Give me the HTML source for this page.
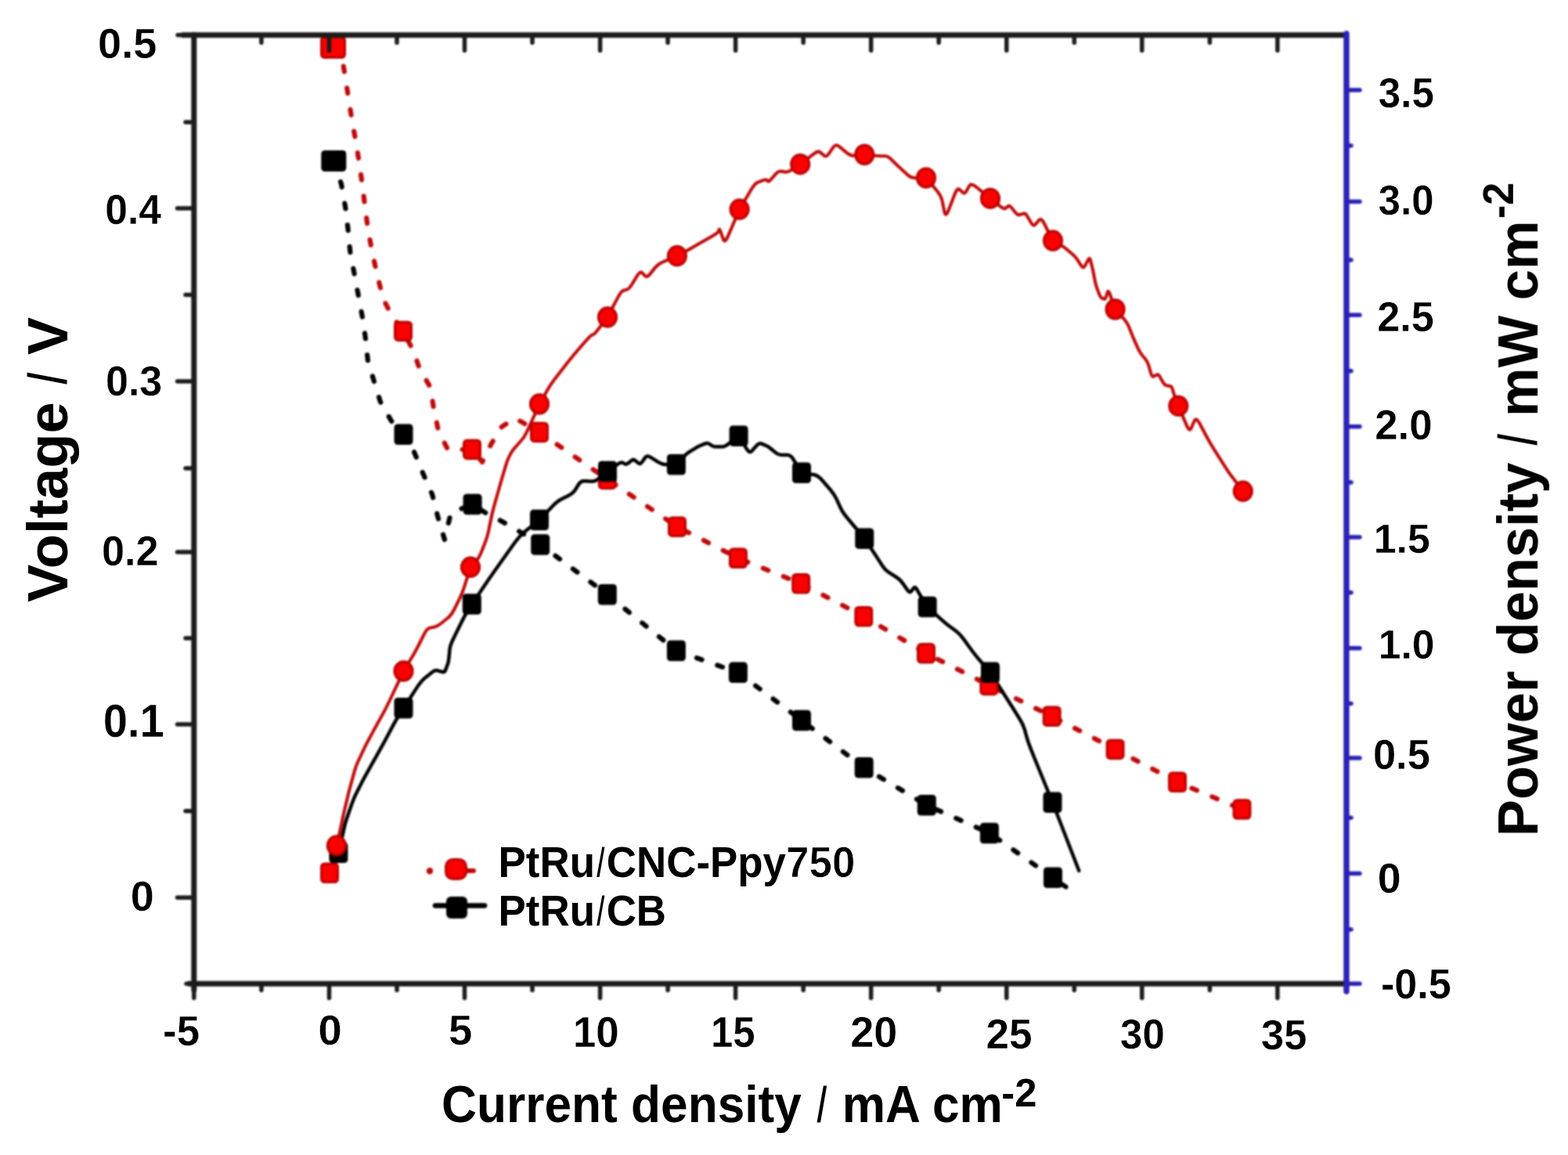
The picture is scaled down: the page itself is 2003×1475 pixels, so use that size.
<!DOCTYPE html>
<html lang="en"><head><meta charset="utf-8"><title>Polarization and power density curves</title>
<style>
html,body{margin:0;padding:0;background:#fff;}
body{width:2003px;height:1475px;overflow:hidden;}
svg{display:block;width:2003px;height:1475px;}
text{font-family:"Liberation Sans",sans-serif;font-weight:bold;fill:#000;}
</style></head><body>
<svg width="2003" height="1475" viewBox="0 0 2003 1475">
<defs><filter id="soft" x="-2%" y="-2%" width="104%" height="104%" color-interpolation-filters="sRGB"><feGaussianBlur stdDeviation="1.2"/></filter><filter id="softt" x="-2%" y="-2%" width="104%" height="104%" color-interpolation-filters="sRGB"><feGaussianBlur stdDeviation="0.7"/></filter></defs>
<rect x="0" y="0" width="2003" height="1475" fill="#fff"/>
<g filter="url(#soft)">
<polyline points="426.3,205.5 436.0,235.0 441.4,266.0 444.5,292.0 447.3,321.5 452.6,349.5 457.8,377.4 463.0,405.4 466.6,429.9 470.0,461.3 485.8,512.9 499.8,537.4 515.5,554.8 527.7,574.0 540.0,603.8 552.2,631.7 559.2,659.7 567.9,689.0 576.0,655.0 603.6,644.0 622.0,656.0 639.6,665.0 664.0,679.0 690.2,695.5 775.8,759.3 863.9,831.0 942.9,858.9 1024.0,920.0 1103.7,980.2 1183.8,1028.3 1263.9,1063.9 1345.0,1120.8" fill="none" stroke="#000" stroke-width="6.2" stroke-dasharray="7 21" stroke-dashoffset="0" stroke-linecap="round" stroke-linejoin="round"/>
<polyline points="426.0,60.0 438.0,80.0 441.0,98.0 445.0,124.0 450.0,156.0 455.0,183.0 459.0,209.0 463.0,237.0 466.4,265.0 470.0,292.0 475.3,321.5 482.3,353.0 489.3,381.0 499.8,402.0 515.0,423.0 528.0,448.0 536.0,471.0 550.0,495.0 554.0,522.0 560.0,550.0 572.0,574.0 603.0,574.0 616.0,590.0 628.0,566.0 641.0,545.0 658.0,534.0 689.0,552.0 775.8,612.0 865.0,672.6 942.9,712.8 1023.2,745.3 1103.3,787.2 1183.0,834.4 1263.3,875.0 1343.7,914.8 1424.6,957.0 1504.0,998.8 1586.5,1033.6" fill="none" stroke="#c00808" stroke-width="6.2" stroke-dasharray="7 21" stroke-dashoffset="0" stroke-linecap="round" stroke-linejoin="round"/>
<path d="M432.4,1088.8L436.9,1069.6Q438.4,1063.2 439.1,1059.8L440.6,1053.2Q441.4,1049.8 444.0,1042.3L449.2,1027.3Q451.8,1019.8 454.8,1013.8L460.8,1001.9Q463.8,995.9 467.2,989.9L473.9,977.9Q477.3,971.9 481.1,965.1L488.6,951.6Q492.3,944.9 495.7,938.5L502.4,925.9Q505.8,919.5 508.2,915.7L513.1,908.1Q515.5,904.3 521.2,895.6L532.5,878.1Q538.2,869.4 542.6,865.9L551.3,858.9Q555.7,855.4 558.8,856.3L564.9,858.0Q567.9,858.9 569.2,855.4L571.8,848.5Q573.1,845.0 573.5,839.8L574.5,829.2Q574.9,824.0 579.7,814.4L589.3,795.1Q594.1,785.5 596.3,782.0L600.6,775.0Q602.8,771.5 609.3,761.9L622.5,742.6Q629.0,733.0 637.8,720.8L655.2,696.2Q664.0,684.0 670.2,679.0L682.8,669.0Q689.0,664.0 694.8,658.0L706.2,646.0Q712.0,640.0 717.0,637.5L727.0,632.5Q732.0,630.0 734.5,626.0L739.5,618.0Q742.0,614.0 746.5,614.2L755.5,614.8Q760.0,615.0 764.0,611.8L772.0,605.2Q776.0,602.0 780.3,599.0L789.0,592.8Q793.3,589.8 795.0,590.7L798.5,592.4Q800.3,593.3 802.5,591.5L806.8,588.0Q809.0,586.3 811.2,588.0L815.6,591.5Q817.8,593.3 820.0,590.2L824.3,584.1Q826.5,581.0 831.3,584.1L840.9,590.2Q845.7,593.3 850.2,593.3L859.4,593.3Q863.9,593.3 867.2,589.8L873.7,582.8Q877.0,579.3 880.5,577.1L887.5,572.8Q891.0,570.6 894.1,569.3L900.3,566.6Q903.4,565.3 905.5,566.6L909.9,569.3Q912.0,570.6 915.5,570.6L922.5,570.6Q926.0,570.6 930.4,567.1L939.2,560.1Q943.6,556.6 947.1,562.3L954.0,573.6Q957.5,579.3 960.6,575.8L966.7,568.8Q969.8,565.3 972.8,566.6L979.0,569.3Q982.0,570.6 985.0,573.2L991.2,578.4Q994.2,581.0 998.2,581.0L1006.0,581.0Q1010.0,581.0 1013.5,586.7L1020.5,598.1Q1024.0,603.8 1029.2,604.6L1039.8,606.2Q1045.0,607.0 1050.2,613.2L1060.8,625.5Q1066.0,631.7 1068.6,637.4L1073.8,648.7Q1076.4,654.4 1083.4,662.7L1097.3,679.3Q1104.3,687.6 1107.8,692.9L1114.8,703.4Q1118.3,708.6 1121.3,713.4L1127.5,723.0Q1130.5,727.8 1135.3,730.8L1144.9,737.0Q1149.7,740.0 1152.8,744.4L1158.9,753.1Q1162.0,757.5 1163.8,755.3L1167.2,751.0Q1169.0,748.8 1170.8,751.8L1174.2,758.0Q1176.0,761.0 1178.2,764.5L1182.5,771.5Q1184.7,775.0 1190.0,779.8L1200.5,789.4Q1205.7,794.2 1210.9,798.2L1221.4,806.0Q1226.6,810.0 1230.9,816.1L1239.7,828.3Q1244.0,834.4 1249.2,840.5L1259.8,852.8Q1265.0,858.9 1271.1,868.5L1283.4,887.7Q1289.5,897.3 1293.9,904.3L1302.6,918.3Q1307.0,925.3 1308.8,931.4L1312.2,943.6Q1314.0,949.7 1321.6,968.5L1336.9,1006.0Q1344.5,1024.7 1353.0,1046.5L1378.3,1112.0" fill="none" stroke="#000" stroke-width="4.5" stroke-linejoin="round" stroke-linecap="round"/>
<path d="M429.9,1079.9L432.9,1067.4Q433.9,1063.2 435.4,1056.1L438.4,1041.9Q439.9,1034.8 441.8,1027.3L445.4,1012.3Q447.3,1004.8 449.2,998.1L452.9,984.6Q454.8,977.9 457.8,971.5L463.8,958.8Q466.8,952.4 469.8,946.8L475.8,935.6Q478.8,930.0 482.6,923.2L490.1,909.8Q493.8,903.0 499.2,891.5L510.1,868.5Q515.5,857.0 519.4,850.5L527.3,837.5Q531.2,831.0 534.7,824.0L541.7,810.0Q545.2,803.0 548.7,802.1L555.7,800.4Q559.2,799.5 563.6,796.0L572.2,789.0Q576.6,785.5 580.1,778.5L587.1,764.5Q590.6,757.5 593.2,749.2L598.4,732.6Q601.0,724.3 603.8,721.1L609.5,714.9Q612.3,711.7 614.9,705.0L620.2,691.5Q622.8,684.7 624.3,677.2L627.3,662.3Q628.8,654.8 631.4,645.4L636.7,626.7Q639.3,617.3 641.5,609.8L646.0,594.9Q648.3,587.4 649.8,584.4L652.8,578.4Q654.3,575.4 658.0,571.3L665.5,563.0Q669.2,558.9 670.7,555.9L673.7,550.0Q675.2,547.0 678.7,539.2L685.5,523.8Q689.0,516.0 692.8,509.5L700.2,496.5Q704.0,490.0 711.0,481.0L725.0,463.0Q732.0,454.0 737.5,447.8L748.5,435.2Q754.0,429.0 755.5,428.2L758.5,426.8Q760.0,426.0 764.0,420.8L772.0,410.2Q776.0,405.0 780.3,396.8L789.0,380.4Q793.3,372.2 795.9,371.3L801.2,369.6Q803.8,368.7 807.3,363.0L814.3,351.7Q817.8,346.0 820.0,348.2L824.3,352.5Q826.5,354.7 830.0,350.4L837.0,341.6Q840.5,337.3 846.6,334.7L858.8,329.4Q864.9,326.8 870.6,323.7L881.9,317.6Q887.6,314.5 895.0,310.1L910.0,301.4Q917.4,297.0 917.8,295.7L918.6,293.1Q919.0,291.8 920.8,296.6L924.2,306.2Q926.0,311.0 930.6,300.1L940.0,278.2Q944.6,267.3 949.6,259.0L959.5,242.3Q964.5,234.0 968.0,232.8L975.0,230.2Q978.5,229.0 979.4,229.8L981.1,231.6Q982.0,232.4 985.0,228.9L991.2,221.9Q994.2,218.4 997.3,218.8L1003.4,219.6Q1006.5,220.0 1010.4,217.4L1018.3,212.3Q1022.2,209.7 1027.9,205.3L1039.3,196.6Q1045.0,192.2 1047.6,194.4L1052.8,198.8Q1055.4,201.0 1058.5,196.6L1064.5,187.9Q1067.6,183.5 1072.4,187.4L1082.0,195.3Q1086.8,199.2 1091.2,198.8L1099.9,197.9Q1104.3,197.5 1108.7,197.9L1117.4,198.8Q1121.8,199.2 1124.8,199.2L1131.0,199.2Q1134.0,199.2 1137.1,202.2L1143.2,208.3Q1146.3,211.4 1150.7,215.3L1159.3,223.2Q1163.7,227.2 1168.5,227.2L1178.2,227.2Q1183.0,227.2 1187.8,232.9L1197.4,244.3Q1202.2,250.0 1203.7,256.9L1206.5,270.9Q1208.0,277.8 1211.8,268.2L1219.2,249.0Q1223.0,239.4 1225.2,241.6L1229.8,245.8Q1232.0,248.0 1234.2,244.4L1238.4,237.1Q1240.6,233.5 1246.7,238.5L1258.9,248.4Q1265.0,253.4 1269.4,256.9L1278.2,263.8Q1282.6,267.3 1284.3,266.0L1287.8,263.3Q1289.5,262.0 1292.1,265.2L1297.4,271.8Q1300.0,275.0 1302.5,274.2L1307.5,272.8Q1310.0,272.0 1312.5,276.4L1317.5,285.1Q1320.0,289.5 1322.5,286.6L1327.5,280.9Q1330.0,278.0 1333.8,285.3L1341.2,300.0Q1345.0,307.3 1348.7,309.5L1356.2,313.8Q1359.9,316.0 1363.4,319.0L1370.4,325.0Q1373.9,328.0 1376.4,331.9L1381.4,339.6Q1383.9,343.5 1385.9,339.6L1389.9,331.9Q1391.9,328.0 1392.9,332.0L1394.9,340.0Q1395.9,344.0 1396.9,349.0L1398.8,359.0Q1399.8,364.0 1401.3,367.9L1404.3,375.9Q1405.8,379.8 1407.3,380.5L1410.3,381.8Q1411.8,382.5 1412.8,379.4L1414.8,373.1Q1415.8,370.0 1418.0,376.2L1422.4,388.8Q1424.6,395.0 1428.4,399.2L1436.0,407.6Q1439.8,411.8 1441.8,416.8L1445.8,426.7Q1447.8,431.7 1449.8,436.2L1453.8,445.2Q1455.8,449.7 1458.3,452.7L1463.3,458.7Q1465.8,461.7 1467.3,466.7L1470.2,476.7Q1471.7,481.7 1473.7,480.7L1477.7,478.7Q1479.7,477.7 1481.7,481.2L1485.7,488.2Q1487.7,491.7 1490.0,492.2L1494.5,493.1Q1496.7,493.6 1497.5,496.1L1499.0,501.1Q1499.7,503.6 1501.1,507.3L1503.9,514.7Q1505.3,518.4 1508.8,526.8L1515.9,543.4Q1519.4,551.8 1521.6,547.0L1525.8,537.3Q1528.0,532.5 1532.4,540.8L1541.3,557.5Q1545.7,565.8 1551.8,575.4L1564.2,594.8Q1570.3,604.4 1574.7,610.1L1587.8,627.3" fill="none" stroke="#c00808" stroke-width="4.1" stroke-linejoin="round" stroke-linecap="round"/>
<line x1="1353" y1="1127" x2="1361.5" y2="1132.5" stroke="#000" stroke-width="6.2" stroke-linecap="round"/>
<g fill="#000">
<rect x="410.3" y="192.0" width="32" height="27" rx="4.5"/>
<rect x="503.5" y="541.5" width="24" height="26.5" rx="4.5"/>
<rect x="591.6" y="630.8" width="24" height="26.5" rx="4.5"/>
<rect x="678.2" y="682.2" width="24" height="26.5" rx="4.5"/>
<rect x="763.8" y="746.0" width="24" height="26.5" rx="4.5"/>
<rect x="851.9" y="817.8" width="24" height="26.5" rx="4.5"/>
<rect x="930.9" y="845.6" width="24" height="26.5" rx="4.5"/>
<rect x="1012.0" y="906.8" width="24" height="26.5" rx="4.5"/>
<rect x="1091.7" y="967.0" width="24" height="26.5" rx="4.5"/>
<rect x="1171.8" y="1015.0" width="24" height="26.5" rx="4.5"/>
<rect x="1251.9" y="1050.7" width="24" height="26.5" rx="4.5"/>
<rect x="1333.0" y="1107.5" width="24" height="26.5" rx="4.5"/>
</g>
<g fill="#fa0000" stroke="#bc0000" stroke-width="3">
<rect x="410.5" y="47.5" width="30" height="26" rx="4"/>
<rect x="504.5" y="411.2" width="21" height="23.5" rx="4"/>
<rect x="592.5" y="562.2" width="21" height="23.5" rx="4"/>
<rect x="678.5" y="540.2" width="21" height="23.5" rx="4"/>
<rect x="765.3" y="600.2" width="21" height="23.5" rx="4"/>
<rect x="854.5" y="660.9" width="21" height="23.5" rx="4"/>
<rect x="932.4" y="701.0" width="21" height="23.5" rx="4"/>
<rect x="1012.7" y="733.5" width="21" height="23.5" rx="4"/>
<rect x="1092.8" y="775.5" width="21" height="23.5" rx="4"/>
<rect x="1172.5" y="822.6" width="21" height="23.5" rx="4"/>
<rect x="1252.8" y="863.2" width="21" height="23.5" rx="4"/>
<rect x="1333.2" y="903.0" width="21" height="23.5" rx="4"/>
<rect x="1414.1" y="945.2" width="21" height="23.5" rx="4"/>
<rect x="1493.5" y="987.0" width="21" height="23.5" rx="4"/>
<rect x="1576.0" y="1021.8" width="21" height="23.5" rx="4"/>
<rect x="410.5" y="1103.0" width="21" height="23.5" rx="4"/>
</g>
<g fill="#000">
<rect x="420.4" y="1075.5" width="24" height="26.5" rx="4.5"/>
<rect x="503.5" y="891.0" width="24" height="26.5" rx="4.5"/>
<rect x="590.8" y="758.2" width="24" height="26.5" rx="4.5"/>
<rect x="677.0" y="650.8" width="24" height="26.5" rx="4.5"/>
<rect x="764.0" y="588.8" width="24" height="26.5" rx="4.5"/>
<rect x="851.9" y="580.0" width="24" height="26.5" rx="4.5"/>
<rect x="931.6" y="543.4" width="24" height="26.5" rx="4.5"/>
<rect x="1012.0" y="590.5" width="24" height="26.5" rx="4.5"/>
<rect x="1092.3" y="674.4" width="24" height="26.5" rx="4.5"/>
<rect x="1172.7" y="761.8" width="24" height="26.5" rx="4.5"/>
<rect x="1253.0" y="845.6" width="24" height="26.5" rx="4.5"/>
<rect x="1332.5" y="1011.5" width="24" height="26.5" rx="4.5"/>
</g>
<g fill="#fa0000" stroke="#bc0000" stroke-width="3">
<ellipse cx="429.9" cy="1079.9" rx="11.6" ry="12.2"/>
<ellipse cx="515.5" cy="857.0" rx="11.6" ry="12.2"/>
<ellipse cx="601.0" cy="724.3" rx="11.6" ry="12.2"/>
<ellipse cx="689.0" cy="516.0" rx="11.6" ry="12.2"/>
<ellipse cx="776.0" cy="405.0" rx="11.6" ry="12.2"/>
<ellipse cx="864.9" cy="326.8" rx="11.6" ry="12.2"/>
<ellipse cx="944.6" cy="267.3" rx="11.6" ry="12.2"/>
<ellipse cx="1022.2" cy="209.7" rx="11.6" ry="12.2"/>
<ellipse cx="1104.3" cy="197.5" rx="11.6" ry="12.2"/>
<ellipse cx="1183.0" cy="227.2" rx="11.6" ry="12.2"/>
<ellipse cx="1265.0" cy="253.4" rx="11.6" ry="12.2"/>
<ellipse cx="1345.0" cy="307.3" rx="11.6" ry="12.2"/>
<ellipse cx="1424.6" cy="395.0" rx="11.6" ry="12.2"/>
<ellipse cx="1505.3" cy="518.4" rx="11.6" ry="12.2"/>
<ellipse cx="1587.8" cy="627.3" rx="11.6" ry="12.2"/>
</g>
<g stroke="#1c1c1c" stroke-width="7.0" stroke-linecap="butt" fill="none">
<line x1="247.8" y1="41.3" x2="247.8" y2="1266"/>
<line x1="232" y1="44.8" x2="1720.0" y2="44.8"/>
<line x1="240" y1="1256.2" x2="1720.0" y2="1256.2"/>
</g>
<g stroke="#1c1c1c" stroke-width="5.5" stroke-linecap="round" fill="none">
<line x1="227" y1="44.8" x2="247.8" y2="44.8"/>
<line x1="238" y1="1256.2" x2="247.8" y2="1256.2"/>
<line x1="247.8" y1="1256.2" x2="247.8" y2="1274.5"/>
<line x1="226.5" y1="266.0" x2="247.8" y2="266.0"/>
<line x1="226.5" y1="487.0" x2="247.8" y2="487.0"/>
<line x1="226.5" y1="705.0" x2="247.8" y2="705.0"/>
<line x1="226.5" y1="925.0" x2="247.8" y2="925.0"/>
<line x1="226.5" y1="1146.2" x2="247.8" y2="1146.2"/>
<line x1="237" y1="156.0" x2="247.8" y2="156.0"/>
<line x1="237" y1="376.5" x2="247.8" y2="376.5"/>
<line x1="237" y1="598.0" x2="247.8" y2="598.0"/>
<line x1="237" y1="815.0" x2="247.8" y2="815.0"/>
<line x1="237" y1="1035.8" x2="247.8" y2="1035.8"/>
<line x1="333.9" y1="44.8" x2="333.9" y2="54.5"/>
<line x1="333.9" y1="1256.2" x2="333.9" y2="1264.5"/>
<line x1="420.5" y1="44.8" x2="420.5" y2="64.5"/>
<line x1="420.5" y1="1256.2" x2="420.5" y2="1274.5"/>
<line x1="507.0" y1="44.8" x2="507.0" y2="54.5"/>
<line x1="507.0" y1="1256.2" x2="507.0" y2="1264.5"/>
<line x1="593.5" y1="44.8" x2="593.5" y2="64.5"/>
<line x1="593.5" y1="1256.2" x2="593.5" y2="1274.5"/>
<line x1="680.0" y1="44.8" x2="680.0" y2="54.5"/>
<line x1="680.0" y1="1256.2" x2="680.0" y2="1264.5"/>
<line x1="766.6" y1="44.8" x2="766.6" y2="64.5"/>
<line x1="766.6" y1="1256.2" x2="766.6" y2="1274.5"/>
<line x1="853.1" y1="44.8" x2="853.1" y2="54.5"/>
<line x1="853.1" y1="1256.2" x2="853.1" y2="1264.5"/>
<line x1="939.6" y1="44.8" x2="939.6" y2="64.5"/>
<line x1="939.6" y1="1256.2" x2="939.6" y2="1274.5"/>
<line x1="1026.2" y1="44.8" x2="1026.2" y2="54.5"/>
<line x1="1026.2" y1="1256.2" x2="1026.2" y2="1264.5"/>
<line x1="1112.7" y1="44.8" x2="1112.7" y2="64.5"/>
<line x1="1112.7" y1="1256.2" x2="1112.7" y2="1274.5"/>
<line x1="1199.2" y1="44.8" x2="1199.2" y2="54.5"/>
<line x1="1199.2" y1="1256.2" x2="1199.2" y2="1264.5"/>
<line x1="1285.8" y1="44.8" x2="1285.8" y2="64.5"/>
<line x1="1285.8" y1="1256.2" x2="1285.8" y2="1274.5"/>
<line x1="1372.3" y1="44.8" x2="1372.3" y2="54.5"/>
<line x1="1372.3" y1="1256.2" x2="1372.3" y2="1264.5"/>
<line x1="1458.8" y1="44.8" x2="1458.8" y2="64.5"/>
<line x1="1458.8" y1="1256.2" x2="1458.8" y2="1274.5"/>
<line x1="1545.4" y1="44.8" x2="1545.4" y2="54.5"/>
<line x1="1545.4" y1="1256.2" x2="1545.4" y2="1264.5"/>
<line x1="1631.9" y1="44.8" x2="1631.9" y2="64.5"/>
<line x1="1631.9" y1="1256.2" x2="1631.9" y2="1274.5"/>
</g>
<g stroke="#2a22b6" stroke-width="5.5" stroke-linecap="round" fill="none">
<line x1="1720.0" y1="43" x2="1720.0" y2="1266" stroke-width="7.4"/>
<line x1="1720.0" y1="115.0" x2="1737" y2="115.0"/>
<line x1="1720.0" y1="257.4" x2="1737" y2="257.4"/>
<line x1="1720.0" y1="402.3" x2="1737" y2="402.3"/>
<line x1="1720.0" y1="544.7" x2="1737" y2="544.7"/>
<line x1="1720.0" y1="685.9" x2="1737" y2="685.9"/>
<line x1="1720.0" y1="827.7" x2="1737" y2="827.7"/>
<line x1="1720.0" y1="967.9" x2="1737" y2="967.9"/>
<line x1="1720.0" y1="1115.6" x2="1737" y2="1115.6"/>
<line x1="1720.0" y1="1256.2" x2="1737" y2="1256.2"/>
<line x1="1720.0" y1="186.0" x2="1726" y2="186.0"/>
<line x1="1720.0" y1="332.0" x2="1726" y2="332.0"/>
<line x1="1720.0" y1="473.8" x2="1726" y2="473.8"/>
<line x1="1720.0" y1="616.0" x2="1726" y2="616.0"/>
<line x1="1720.0" y1="756.8" x2="1726" y2="756.8"/>
<line x1="1720.0" y1="898.6" x2="1726" y2="898.6"/>
<line x1="1720.0" y1="1044.2" x2="1726" y2="1044.2"/>
<line x1="1720.0" y1="1187.0" x2="1726" y2="1187.0"/>
</g>
<g>
<circle cx="549" cy="1112.3" r="4.2" fill="#c00808"/>
<line x1="596" y1="1112" x2="605" y2="1112" stroke="#c00808" stroke-width="6" stroke-linecap="round"/>
<rect x="569.5" y="1097.5" width="26" height="25" rx="9" fill="#fa0000" stroke="#bc0000" stroke-width="3"/>
<line x1="556" y1="1156.5" x2="619" y2="1156.5" stroke="#000" stroke-width="6.5" stroke-linecap="round"/>
<rect x="570" y="1145" width="27" height="28" rx="6" fill="#000"/>
</g>
</g>
<g filter="url(#softt)">
<text transform="translate(125.03,74.27) scale(1.0194,1)" font-size="53.11" stroke="#fff" stroke-width="0.3">0.5</text>
<text transform="translate(134.13,286.25) scale(0.9491,1)" font-size="54.52" stroke="#fff" stroke-width="0.3">0.4</text>
<text transform="translate(134.92,504.76) scale(0.9680,1)" font-size="53.81" stroke="#fff" stroke-width="0.3">0.3</text>
<text transform="translate(129.91,721.77) scale(0.9872,1)" font-size="52.97" stroke="#fff" stroke-width="0.3">0.2</text>
<text transform="translate(131.75,940.51) scale(0.9500,1)" font-size="59.18" stroke="#fff" stroke-width="0.3">0.1</text>
<text transform="translate(166.74,1163.26) scale(1.0041,1)" font-size="53.67" stroke="#fff" stroke-width="0.3">0</text>
<text transform="translate(208.09,1335.25) scale(0.9685,1)" font-size="54.52" stroke="#fff" stroke-width="0.3">-5</text>
<text transform="translate(406.43,1334.25) scale(0.9963,1)" font-size="54.52" stroke="#fff" stroke-width="0.3">0</text>
<text transform="translate(572.96,1334.25) scale(1.0028,1)" font-size="54.52" stroke="#fff" stroke-width="0.3">5</text>
<text transform="translate(731.90,1336.65) scale(0.9586,1)" font-size="55.08" stroke="#fff" stroke-width="0.3">10</text>
<text transform="translate(908.01,1336.75) scale(0.9231,1)" font-size="55.23" stroke="#fff" stroke-width="0.3">15</text>
<text transform="translate(1086.31,1336.75) scale(0.9780,1)" font-size="55.23" stroke="#fff" stroke-width="0.3">20</text>
<text transform="translate(1259.54,1339.25) scale(0.9753,1)" font-size="54.52" stroke="#fff" stroke-width="0.3">25</text>
<text transform="translate(1431.05,1339.25) scale(0.9350,1)" font-size="54.52" stroke="#fff" stroke-width="0.3">30</text>
<text transform="translate(1611.02,1339.76) scale(0.9747,1)" font-size="53.81" stroke="#fff" stroke-width="0.3">35</text>
<text transform="translate(1760.85,137.25) scale(0.9376,1)" font-size="54.52" stroke="#fff" stroke-width="0.3">3.5</text>
<text transform="translate(1760.86,273.86) scale(0.9351,1)" font-size="54.38" stroke="#fff" stroke-width="0.3">3.0</text>
<text transform="translate(1759.17,423.06) scale(0.9628,1)" font-size="54.38" stroke="#fff" stroke-width="0.3">2.5</text>
<text transform="translate(1756.15,560.86) scale(0.9719,1)" font-size="54.38" stroke="#fff" stroke-width="0.3">2.0</text>
<text transform="translate(1754.75,706.18) scale(1.0044,1)" font-size="51.69" stroke="#fff" stroke-width="0.3">1.5</text>
<text transform="translate(1760.77,840.98) scale(0.9991,1)" font-size="51.69" stroke="#fff" stroke-width="0.3">1.0</text>
<text transform="translate(1753.90,982.15) scale(0.9639,1)" font-size="54.52" stroke="#fff" stroke-width="0.3">0.5</text>
<text transform="translate(1759.85,1140.07) scale(1.0082,1)" font-size="53.25" stroke="#fff" stroke-width="0.3">0</text>
<text transform="translate(1763.91,1274.97) scale(0.9856,1)" font-size="52.97" stroke="#fff" stroke-width="0.3">-0.5</text>
<text transform="translate(636.58,1120.05) scale(0.9457,1)" font-size="55.96">PtRu<tspan stroke="#fff" stroke-width="3.0">/</tspan>CNC-Ppy<tspan stroke="#fff" stroke-width="0.7">750</tspan></text>
<text transform="translate(636.58,1181.55) scale(0.9475,1)" font-size="55.81">PtRu<tspan stroke="#fff" stroke-width="3.0">/</tspan>CB</text>
<text transform="translate(564.06,1433.35) scale(0.9228,1)" font-size="67.44">Current density <tspan stroke="#fff" stroke-width="3.0">/</tspan> mA cm</text>
<text transform="translate(1279.32,1413.25) scale(1.0013,1)" font-size="50.71">-2</text>
<text transform="translate(86.05,768.99) rotate(-90) scale(0.9903,1)" font-size="72.97">Voltage <tspan stroke="#fff" stroke-width="3.0">/</tspan> V</text>
<text transform="translate(1964.15,1068.20) rotate(-90) scale(0.9828,1)" font-size="71.66">Power density <tspan stroke="#fff" stroke-width="3.0">/</tspan> mW cm</text>
<text transform="translate(1932.85,279.24) rotate(-90) scale(0.9489,1)" font-size="54.94">-2</text>
</g>
</svg>
</body></html>
